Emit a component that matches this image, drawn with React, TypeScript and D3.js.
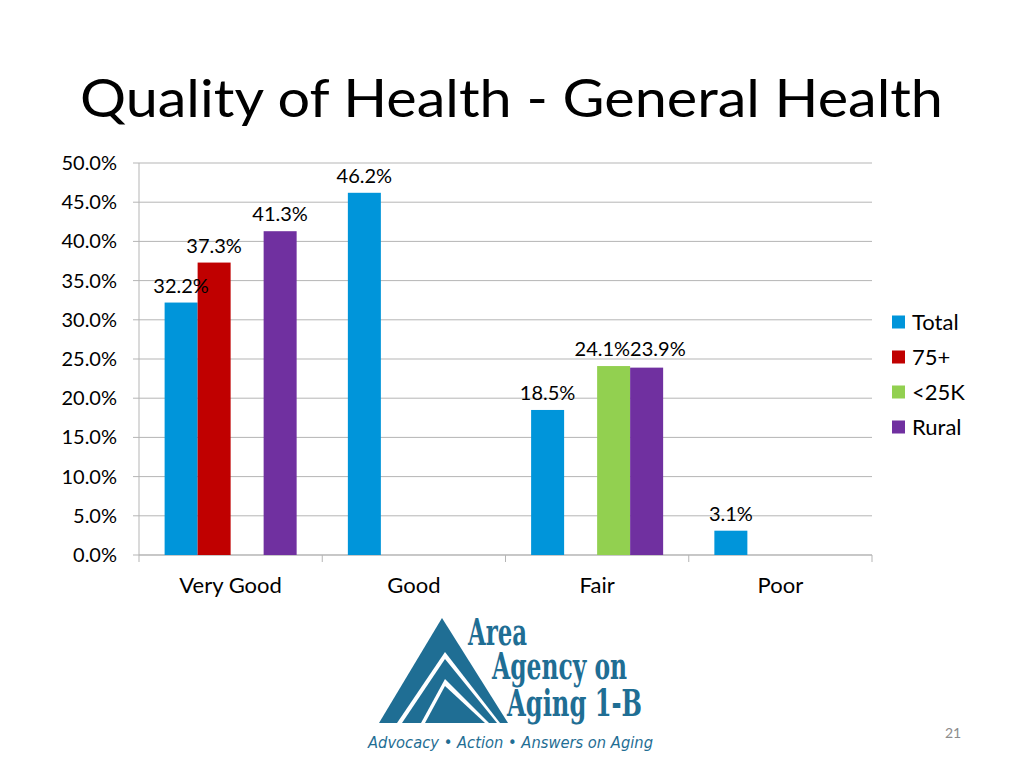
import React, { useMemo } from "react";
import * as d3 from "d3";

const categories = ["Very Good", "Good", "Fair", "Poor"];
const seriesNames = ["Total", "75+", "<25K", "Rural"];
const totalValues: (number | null)[] = [32.2, 46.2, 18.5, 3.1];
const over75Values: (number | null)[] = [37.3, null, null, null];
const under25kValues: (number | null)[] = [null, null, 24.1, null];
const ruralValues: (number | null)[] = [41.3, null, 23.9, null];
const seriesColors = ["#0095DA", "#C00000", "#92D050", "#7030A0"];
const yTicks = [0, 5, 10, 15, 20, 25, 30, 35, 40, 45, 50];

const W = 1024;
const H = 768;
const FONT = "Lato, 'Open Sans', sans-serif";
const LABEL_SIZE = 20;

function measure(text: string, size: number) {
  if (typeof document === "undefined") return text.length * size * 0.55;
  const c = document.createElement("canvas");
  const ctx = c.getContext("2d");
  if (!ctx) return text.length * size * 0.55;
  ctx.font = `${size}px Lato`;
  return ctx.measureText(text).width;
}

export default function App() {
  const seriesValues = [totalValues, over75Values, under25kValues, ruralValues];
  const plot = { left: 139, right: 872, top: 163, bottom: 555 };

  const x0 = d3.scaleBand<string>().domain(categories).range([plot.left, plot.right]).paddingInner(0).paddingOuter(0);
  const x1 = d3.scaleBand<string>().domain(seriesNames).range([0, x0.bandwidth()]).paddingInner(0).paddingOuter(0.776);
  const y = d3.scaleLinear().domain([0, 50]).range([plot.bottom, plot.top]);
  const fmt = d3.format(".1f");

  const bars: { key: string; x: number; y: number; w: number; h: number; color: string; value: number }[] = [];
  categories.forEach((cat, ci) => {
    seriesNames.forEach((s, si) => {
      const v = seriesValues[si][ci];
      if (v == null) return;
      const bx = (x0(cat) ?? 0) + (x1(s) ?? 0);
      bars.push({ key: `${cat}-${s}`, x: bx, y: y(v), w: x1.bandwidth(), h: y(0) - y(v), color: seriesColors[si], value: v });
    });
  });

  // data labels with simple overlap resolution
  const labels = useMemo(() => {
    const ls = bars.map((b) => {
      const text = `${fmt(b.value)}%`;
      const w = measure(text, LABEL_SIZE);
      return { key: b.key, text, cx: b.x + b.w / 2, y: b.y - 10, w };
    });
    for (let iter = 0; iter < 5; iter++) {
      for (let i = 0; i < ls.length; i++) {
        for (let j = i + 1; j < ls.length; j++) {
          const a = ls[i];
          const b = ls[j];
          if (Math.abs(a.y - b.y) > LABEL_SIZE) continue;
          const minDist = (a.w + b.w) / 2;
          const d = b.cx - a.cx;
          if (Math.abs(d) < minDist) {
            const push = (minDist - Math.abs(d)) / 2;
            const sgn = d >= 0 ? 1 : -1;
            a.cx -= push * sgn;
            b.cx += push * sgn;
            const my = Math.min(a.y, b.y);
            a.y = my;
            b.y = my;
          }
        }
      }
    }
    return ls;
  }, []);

  const boundaries = [...categories.map((c) => x0(c) ?? 0), plot.right];

  const logoColor = "#1F6E94";
  const slab = "'DejaVu Serif Condensed', 'DejaVu Serif', serif";

  return (
    <svg width={W} height={H} style={{ position: "absolute", left: 0, top: 0, background: "#fff" }} fontFamily={FONT}>
      <rect width={W} height={H} fill="#fff" />
      <text x={80} y={117} fontSize={53} fill="#000" textLength={863} lengthAdjust="spacingAndGlyphs">
        Quality of Health - General Health
      </text>

      {/* gridlines */}
      {yTicks.map((t) => (
        <line key={`g${t}`} x1={plot.left} x2={plot.right} y1={y(t)} y2={y(t)} stroke="#B5B5B5" strokeWidth={1} />
      ))}
      {/* y axis */}
      <line x1={plot.left} x2={plot.left} y1={plot.top} y2={plot.bottom} stroke="#B5B5B5" />
      {yTicks.map((t) => (
        <g key={`yt${t}`}>
          <line x1={plot.left - 6} x2={plot.left} y1={y(t)} y2={y(t)} stroke="#B5B5B5" />
          <text x={117} y={y(t)} dy="0.35em" textAnchor="end" fontSize={20} fill="#000">
            {`${fmt(t)}%`}
          </text>
        </g>
      ))}
      {/* x axis */}
      <line x1={plot.left} x2={plot.right} y1={plot.bottom} y2={plot.bottom} stroke="#B5B5B5" />
      {boundaries.map((bx, i) => (
        <line key={`xt${i}`} x1={bx} x2={bx} y1={plot.bottom} y2={plot.bottom + 7} stroke="#B5B5B5" />
      ))}
      {categories.map((c) => (
        <text key={`xl${c}`} x={(x0(c) ?? 0) + x0.bandwidth() / 2} y={593} textAnchor="middle" fontSize={22} fill="#000">
          {c}
        </text>
      ))}

      {/* bars */}
      {bars.map((b) => (
        <rect key={b.key} x={b.x} y={b.y} width={b.w} height={b.h} fill={b.color} />
      ))}
      {labels.map((l) => (
        <text key={`l${l.key}`} x={l.cx} y={l.y} textAnchor="middle" fontSize={LABEL_SIZE} fill="#000">
          {l.text}
        </text>
      ))}

      {/* legend */}
      {seriesNames.map((s, i) => (
        <g key={`lg${s}`} transform={`translate(892, ${322 + i * 35})`}>
          <rect x={0} y={-6.5} width={13} height={13} fill={seriesColors[i]} />
          <text x={20} y={0} dy="0.35em" fontSize={22} fill="#000">
            {s}
          </text>
        </g>
      ))}

      {/* logo */}
      <g>
        <polygon points="442,618 379,723 508,723" fill={logoColor} />
        <polygon points="445,652 397,723 500,723" fill="#fff" />
        <polygon points="445,659 402,723 497,723" fill={logoColor} />
        <polygon points="445,679 421,723 489,723" fill="#fff" />
        <polygon points="445,686 425,723 485,723" fill={logoColor} />
        <text x={468} y={645} fontFamily={slab} fontWeight="bold" fontSize={37} fill={logoColor} textLength={59} lengthAdjust="spacingAndGlyphs">
          Area
        </text>
        <text x={492} y={679} fontFamily={slab} fontWeight="bold" fontSize={37} fill={logoColor} textLength={135} lengthAdjust="spacingAndGlyphs">
          Agency on
        </text>
        <text x={507} y={716} fontFamily={slab} fontWeight="bold" fontSize={37} fill={logoColor} textLength={135} lengthAdjust="spacingAndGlyphs">
          Aging 1-B
        </text>
        <text x={368} y={748} fontFamily="'DejaVu Sans', sans-serif" fontStyle="italic" fontSize={16} fill={logoColor} textLength={285} lengthAdjust="spacingAndGlyphs">
          Advocacy • Action • Answers on Aging
        </text>
      </g>

      <text x={953} y={738} textAnchor="middle" fontSize={14} fill="#8C8C8C">
        21
      </text>
    </svg>
  );
}
